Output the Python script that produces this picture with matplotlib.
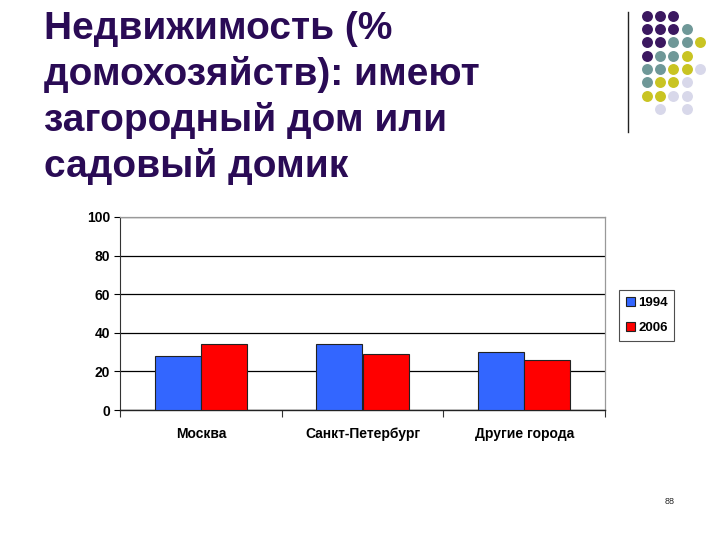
import matplotlib
matplotlib.use("Agg")
import matplotlib.pyplot as plt
import numpy as np

plt.rcParams['font.family'] = ['Liberation Sans', 'DejaVu Sans']

categories = ["Москва", "Санкт-Петербург", "Другие города"]
series_names = ["1994", "2006"]
values_1994 = [28, 34, 30]
values_2006 = [34, 29, 26]
yticks = [0, 20, 40, 60, 80, 100]
title = "Недвижимость (%\nдомохозяйств): имеют\nзагородный дом или\nсадовый домик"
page_number = "88"

# decorative dot pattern (row by row, P=purple, T=teal, Y=yellow, L=lavender, .=empty)
dot_rows = ["PPP", "PPPT", "PPTTY", "PTTY", "TTYYL", "TYYL", "YYLL", ".L.L"]
dot_colors = {"P": "#3b1860", "T": "#6f9898", "Y": "#c9c422", "L": "#d8d8ea"}

fig = plt.figure(figsize=(7.2, 5.4), dpi=100)
fig.patch.set_facecolor("white")

fig.text(44/720, 1 - 11/540, title, ha="left", va="top", fontsize=28,
         fontweight="bold", color="#2a0b55", linespacing=1.31)

ax = fig.add_axes([120/720, 1 - 410/540, 485/720, 193/540])
x = np.arange(len(categories))
w = 0.285
ax.bar(x - w/2, values_1994, w, color="#3366ff", edgecolor="#222222", linewidth=0.8,
       label=series_names[0], zorder=3)
ax.bar(x + w/2, values_2006, w, color="#ff0000", edgecolor="#222222", linewidth=0.8,
       label=series_names[1], zorder=3)
ax.set_xlim(-0.5, len(categories) - 0.5)
ax.set_ylim(0, 100)
ax.set_yticks(yticks)
ax.set_yticklabels([str(t) for t in yticks], fontsize=10, fontweight="bold")
ax.set_xticks(x)
ax.set_xticklabels(categories, fontsize=10, fontweight="bold")
ax.tick_params(axis="x", length=0, pad=12)
ax.set_xticks(np.arange(-0.5, len(categories), 1.0), minor=True)
ax.tick_params(axis="x", which="minor", length=5, width=0.8, color="#333333")
ax.tick_params(axis="y", length=4, width=0.8, pad=3)
ax.yaxis.grid(True, color="black", linewidth=0.9, zorder=0)
ax.set_axisbelow(True)
for s in ["top", "right"]:
    ax.spines[s].set_color("#999999")
    ax.spines[s].set_linewidth(0.9)
ax.spines["left"].set_color("#333333")
ax.spines["bottom"].set_color("#222222")
ax.spines["bottom"].set_linewidth(1.0)

leg = ax.legend(loc="upper left", bbox_to_anchor=(619/720, 1 - 290/540),
                bbox_transform=fig.transFigure, frameon=True, borderaxespad=0,
                handlelength=0.7, handleheight=0.7, handletextpad=0.25,
                borderpad=0.5, labelspacing=1.0, fancybox=False,
                prop={"weight": "bold", "size": 9.5})
leg.get_frame().set_edgecolor("#222222")
leg.get_frame().set_linewidth(0.8)

# decorative element
dax = fig.add_axes([620/720, 1 - 140/540, 100/720, 140/540])
dax.set_xlim(620, 720)
dax.set_ylim(140, 0)
dax.axis("off")
dax.plot([628, 628], [12, 132], color="#222222", linewidth=1.0)
for r, row in enumerate(dot_rows):
    for c, ch in enumerate(row):
        if ch in dot_colors:
            dax.scatter(647 + 13.2 * c, 15.7 + 13.3 * r, s=62, color=dot_colors[ch],
                        linewidths=0)

fig.text(670/720, 1 - 501/540, page_number, ha="center", va="center", fontsize=6.5,
         color="#222222")

fig.savefig("out.png", dpi=100)
